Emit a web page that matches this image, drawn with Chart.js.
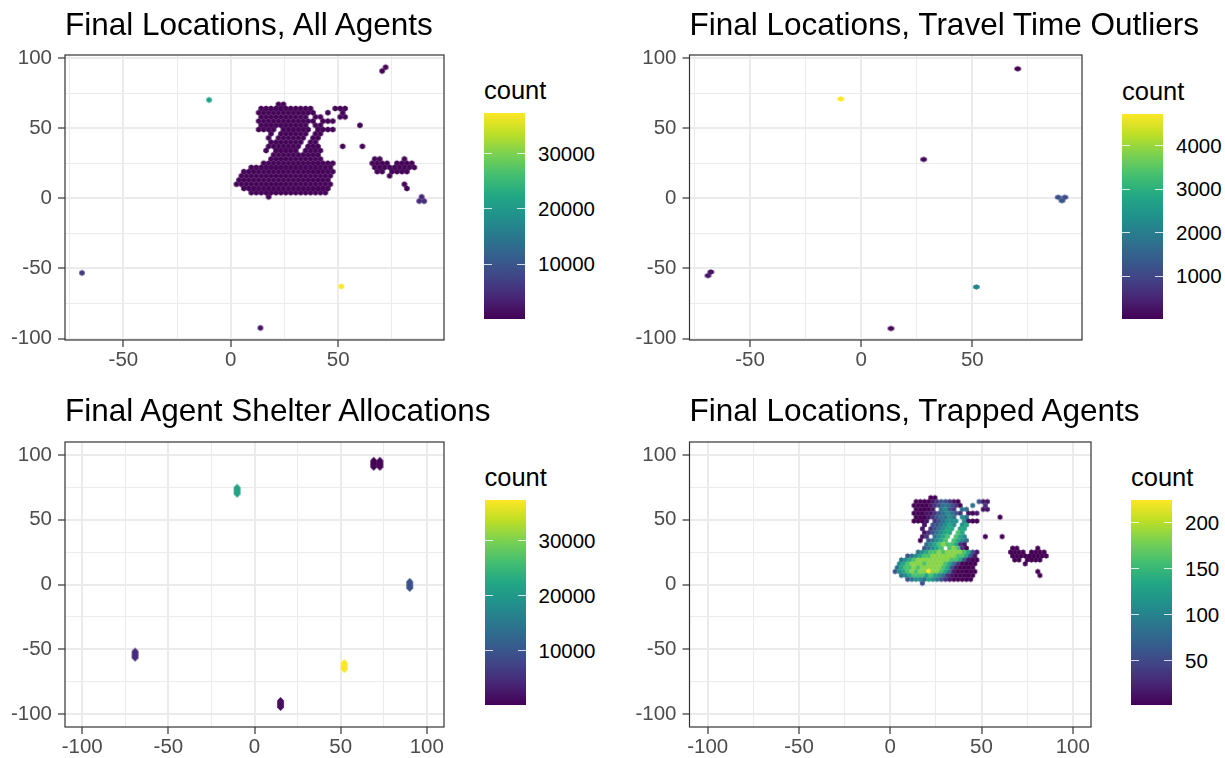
<!DOCTYPE html>
<html>
<head>
<meta charset="utf-8">
<script src="https://cdn.jsdelivr.net/npm/chart.js@4.4.1/dist/chart.umd.min.js"></script>
<style>
html,body{margin:0;padding:0;background:#fff;width:1225px;height:758px;overflow:hidden;
  font-family:'Liberation Sans',Arial,Helvetica,sans-serif;position:relative;}
.title{position:absolute;font-size:31.5px;line-height:32px;color:#000;white-space:nowrap;}
.ltitle{position:absolute;font-size:25.5px;line-height:26px;color:#000;white-space:nowrap;}
.bar{position:absolute;width:41px;}
.blab{position:absolute;font-size:20.5px;line-height:20px;color:#000;white-space:nowrap;}
.btick{position:absolute;height:1px;width:8px;background:rgba(255,255,255,0.8);}
</style>
</head>
<body>
<script>
// ================= DATA =================
// Hex-grid of the main cluster (panels 1 and 4): cell centres
// x = GRID_X0 + GRID_DX*col (+GRID_DX/2 on every other row), rows every GRID_DY from GRID_TOP down.
const GRID_TOP = 67, GRID_X0 = 1.5, GRID_DX = 2.3, GRID_DY = 3;

// Panel 1 – all agents: [y, first column, cells ('#' = occupied hex, '.' = empty)]
const allAgentsRows = [
  [67, 9, "##"],
  [64, 5, "###########"], [64, 20, "###"],
  [61, 5, "############"], [61, 19, "#..#"],
  [58, 5, "##########"], [58, 16, "##...##"],
  [55, 5, "############.###"],
  [52, 5, "##########.##"], [52, 25, "#"],
  [49, 5, "####.######.####"],
  [46, 7, "#.######.##"],
  [43, 7, "#.######.##"],
  [40, 7, "#######.##"],
  [37, 7, "#######.###"], [37, 22, "#...#"],
  [34, 6, "#.#####.####"],
  [31, 8, "##########"],
  [28, 7, "###########"], [28, 28, "##....#"],
  [25, 6, "###############"], [25, 28, "####.####"],
  [22, 3, "#################"], [22, 28, "#########"],
  [19, 2, "###################"], [19, 29, "##.####"],
  [16, 1, "###################"], [16, 31, "#"],
  [13, 1, "###################"],
  [10, 0, "####################"], [10, 34, "#"],
  [7, 2, "##################"], [7, 35, "#"],
  [4, 3, "################"],
  [1, 7, "#"]
];
const allAgentsBlobCount = 300;
// isolated hexes of panel 1
const allOutX = [-10.1, 51.5, -69.3, 13.8, 72.1, 70.5, 88.9, 87.75, 90.05];
const allOutY = [70.1, -62.8, -53.2, -92.4, 93.4, 90.7, 1, -2, -2];
const allOutCount = [22000, 37450, 6500, 2000, 500, 3, 4000, 4500, 4500];
const allTicks = [10000, 20000, 30000];

// Panel 2 – travel time outliers
const outlierX = [-9.2, 70.4, 28.1, 88.6, 91.6, 90.3, -67.6, -68.9, 51.8, 13.4];
const outlierY = [70.8, 92.3, 27.7, 0.7, 0.7, -1.7, -52.5, -55.1, -63.2, -92.8];
const outlierCount = [4730, 12, 90, 1150, 1100, 1250, 250, 300, 2150, 60];
const outlierTicks = [1000, 2000, 3000, 4000];

// Panel 3 – shelter allocations
const shelterX = [69.2, 72.8, -10.1, 90.1, -69.3, 52.1, 15.1];
const shelterY = [93.2, 93.2, 72.4, -0.3, -54.1, -63.0, -92.2];
const shelterCount = [126, 380, 21700, 9800, 4600, 37400, 1500];
const shelterTicks = [10000, 20000, 30000];

// Panel 4 – trapped agents: same grid, digit = count level
const trappedRows = [
  [67, 9, "00"],
  [64, 5, "00001233210"], [64, 20, "311"],
  [61, 5, "000012344320"], [61, 19, "4..2"],
  [58, 5, "00001.4532"], [58, 16, "44...11"],
  [55, 5, "000112345432.101"],
  [52, 5, "0001234454.54"], [52, 25, "0"],
  [49, 5, "0001.234555.5100"],
  [46, 7, "1.334565.56"],
  [43, 7, "1.234566.66"],
  [40, 7, "1234566.76"],
  [37, 7, "12.4567.765"], [37, 22, "0...0"],
  [34, 6, "0.34567.7654"],
  [31, 8, "4567877621"],
  [28, 7, "34567.78720"], [28, 28, "00....0"],
  [25, 6, "456778788887631"], [25, 28, "0000.0000"],
  [22, 3, "34567788888877631"], [22, 28, "000000000"],
  [19, 2, "4567888888887763100"], [19, 29, "00.0000"],
  [16, 1, "5678887888876420000"], [16, 31, "0"],
  [13, 1, "4677878888876310000"],
  [10, 0, "35678788988764100000"], [10, 34, "0"],
  [7, 2, "456777676542100000"], [7, 35, "0"],
  [4, 3, "3455465432100000"],
  [1, 7, "3"]
];
const trappedLevelCount = [2, 15, 35, 60, 85, 110, 135, 160, 185, 225];
const trappedTicks = [50, 100, 150, 200];

const titles = ["Final Locations, All Agents", "Final Locations, Travel Time Outliers",
                "Final Agent Shelter Allocations", "Final Locations, Trapped Agents"];

// ================= helpers =================
const FONT = "'Liberation Sans', Arial, Helvetica, sans-serif";
const VIRIDIS = ['#440154','#482475','#414487','#355f8d','#2a788e','#21918c','#22a884','#44bf70','#7ad151','#bddf26','#fde725'];
const VIR_RGB = VIRIDIS.map(h => [parseInt(h.substr(1,2),16), parseInt(h.substr(3,2),16), parseInt(h.substr(5,2),16)]);
function viridis(t){
  t = Math.max(0, Math.min(1, t));
  const s = t*(VIR_RGB.length-1);
  const i = Math.min(Math.floor(s), VIR_RGB.length-2);
  const f = s - i, a = VIR_RGB[i], b = VIR_RGB[i+1];
  return 'rgb(' + Math.round(a[0]+(b[0]-a[0])*f) + ',' + Math.round(a[1]+(b[1]-a[1])*f) + ',' + Math.round(a[2]+(b[2]-a[2])*f) + ')';
}
function gridCells(rows, valueOf){
  const pts = [];
  rows.forEach(([y, c0, s]) => {
    const r = Math.round((GRID_TOP - y)/GRID_DY);
    const off = (r % 2) ? GRID_DX/2 : 0;
    for (let k = 0; k < s.length; k++){
      const ch = s[k];
      if (ch === '.') continue;
      pts.push({x: GRID_X0 + GRID_DX*(c0+k) + off, y: y, c: valueOf(ch)});
    }
  });
  return pts;
}
function zipPts(xs, ys, cs){ return xs.map((x,i) => ({x: x, y: ys[i], c: cs[i]})); }

const hexCache = {};
function hexImage(color, wpx, hpx){
  const key = color + '|' + wpx.toFixed(2) + '|' + hpx.toFixed(2);
  if (hexCache[key]) return hexCache[key];
  const cw = Math.ceil(wpx) + 2, chh = Math.ceil(hpx) + 2;
  const cv = document.createElement('canvas');
  cv.width = cw; cv.height = chh;
  const g = cv.getContext('2d');
  const cx = cw/2, cy = chh/2, hw = wpx/2, hh = hpx/2;
  g.beginPath();
  g.moveTo(cx, cy-hh); g.lineTo(cx+hw, cy-hh/2); g.lineTo(cx+hw, cy+hh/2);
  g.lineTo(cx, cy+hh); g.lineTo(cx-hw, cy+hh/2); g.lineTo(cx-hw, cy-hh/2);
  g.closePath(); g.fillStyle = color; g.fill();
  hexCache[key] = cv;
  return cv;
}

const isMajor = v => Math.abs(v % 50) < 1e-9;
function axisCfg(min, max, axis, fixed){
  return {
    type: 'linear', min: min, max: max,
    ticks: {
      stepSize: 25, includeBounds: false, autoSkip: false, maxRotation: 0, maxTicksLimit: 30,
      color: '#4d4d4d', font: {family: FONT, size: 20.5},
      padding: axis === 'x' ? 1 : 6,
      callback: v => isMajor(v) ? String(v) : ''
    },
    grid: {
      color: '#ebebeb',
      lineWidth: c => (c.tick && isMajor(c.tick.value)) ? 2 : 1,
      drawTicks: true, tickLength: 7, tickWidth: 1.2,
      tickColor: c => (c.tick && isMajor(c.tick.value)) ? '#333333' : 'rgba(0,0,0,0)'
    },
    border: {display: false},
    afterFit: s => { if (axis === 'x') s.height = fixed; else s.width = fixed; }
  };
}
const panelBorder = {
  id: 'panelBorder',
  afterDatasetsDraw(chart){
    const {ctx, chartArea: a} = chart;
    ctx.save(); ctx.strokeStyle = '#333333'; ctx.lineWidth = 1.2;
    ctx.strokeRect(a.left, a.top, a.right - a.left, a.bottom - a.top);
    ctx.restore();
  }
};

function makePanel(p){
  const cv = document.createElement('canvas');
  cv.width = p.w; cv.height = p.h;
  cv.style.cssText = 'position:absolute;left:' + p.left + 'px;top:' + p.top + 'px;width:' + p.w + 'px;height:' + p.h + 'px;';
  document.body.appendChild(cv);
  const cs = p.points.map(d => d.c);
  const vmin = Math.min(...cs), vmax = Math.max(...cs);
  new Chart(cv.getContext('2d'), {
    type: 'scatter',
    data: {datasets: [{
      data: p.points, pointRadius: 3, borderWidth: 0,
      pointStyle: c => {
        const xs = c.chart.scales.x, ys = c.chart.scales.y;
        const wpx = Math.abs(xs.getPixelForValue(p.hexW) - xs.getPixelForValue(0)) + 0.5;
        const hpx = Math.abs(ys.getPixelForValue(p.hexH) - ys.getPixelForValue(0)) + 0.5;
        return hexImage(viridis((c.raw.c - vmin)/(vmax - vmin)), wpx, hpx);
      }
    }]},
    options: {
      responsive: false, animation: false, devicePixelRatio: 1, events: [],
      layout: {padding: {left: 0, top: p.padTop, right: p.padRight, bottom: 0}},
      plugins: {legend: {display: false}, tooltip: {enabled: false}, title: {display: false}},
      scales: {x: axisCfg(p.xmin, p.xmax, 'x', p.xAxisH), y: axisCfg(p.ymin, p.ymax, 'y', p.yAxisW)}
    },
    plugins: [panelBorder]
  });
  // title
  const t = document.createElement('div');
  t.className = 'title'; t.textContent = p.title;
  t.style.left = p.titleLeft + 'px'; t.style.top = p.titleTop + 'px';
  document.body.appendChild(t);
  // colour bar legend
  const lt = document.createElement('div');
  lt.className = 'ltitle'; lt.textContent = 'count';
  lt.style.left = p.barLeft + 'px'; lt.style.top = (p.barTop - 36) + 'px';
  document.body.appendChild(lt);
  const bar = document.createElement('div');
  bar.className = 'bar';
  bar.style.left = p.barLeft + 'px'; bar.style.top = p.barTop + 'px'; bar.style.height = p.barH + 'px';
  bar.style.background = 'linear-gradient(to top,' + VIRIDIS.join(',') + ')';
  document.body.appendChild(bar);
  p.ticks.forEach(v => {
    const py = p.barTop + p.barH*(1 - (v - vmin)/(vmax - vmin));
    [0, 33].forEach(dx => {
      const tk = document.createElement('div');
      tk.className = 'btick';
      tk.style.left = (p.barLeft + dx) + 'px'; tk.style.top = (py - 0.5) + 'px';
      document.body.appendChild(tk);
    });
    const lb = document.createElement('div');
    lb.className = 'blab'; lb.textContent = String(v);
    lb.style.left = (p.barLeft + 54) + 'px'; lb.style.top = (py - 10) + 'px';
    document.body.appendChild(lb);
  });
}

// ================= build the four panels =================
const p1Points = gridCells(allAgentsRows, () => allAgentsBlobCount).concat(zipPts(allOutX, allOutY, allOutCount));
const p4Points = gridCells(trappedRows, ch => trappedLevelCount[+ch]);

makePanel({title: titles[0], points: p1Points, hexW: GRID_DX, hexH: GRID_DY*4/3,
  left: 0, top: 0, w: 460, h: 379, padTop: 55, padRight: 16, yAxisW: 65, xAxisH: 39,
  xmin: -77.2, xmax: 99.3, ymin: -101, ymax: 102.1,
  titleLeft: 65, titleTop: 8.2, barLeft: 484, barTop: 113, barH: 206, ticks: allTicks});

makePanel({title: titles[1], points: zipPts(outlierX, outlierY, outlierCount), hexW: 2.7, hexH: 3.4,
  left: 625, top: 0, w: 470, h: 379, padTop: 55, padRight: 13, yAxisW: 64.5, xAxisH: 39,
  xmin: -77.2, xmax: 99.3, ymin: -101, ymax: 102.1,
  titleLeft: 689.5, titleTop: 8.2, barLeft: 1122, barTop: 114, barH: 205, ticks: outlierTicks});

makePanel({title: titles[2], points: zipPts(shelterX, shelterY, shelterCount), hexW: 3.6, hexH: 10.4,
  left: 0, top: 379, w: 460, h: 379, padTop: 63, padRight: 16, yAxisW: 65, xAxisH: 31,
  xmin: -110, xmax: 110, ymin: -110, ymax: 110,
  titleLeft: 65, titleTop: 394.2, barLeft: 484.5, barTop: 500, barH: 205, ticks: shelterTicks});

makePanel({title: titles[3], points: p4Points, hexW: GRID_DX, hexH: GRID_DY*4/3,
  left: 625, top: 379, w: 480, h: 379, padTop: 63, padRight: 14, yAxisW: 64.5, xAxisH: 31,
  xmin: -110, xmax: 110, ymin: -110, ymax: 110,
  titleLeft: 689.5, titleTop: 394.2, barLeft: 1131, barTop: 500, barH: 205, ticks: trappedTicks});
</script>
</body>
</html>
